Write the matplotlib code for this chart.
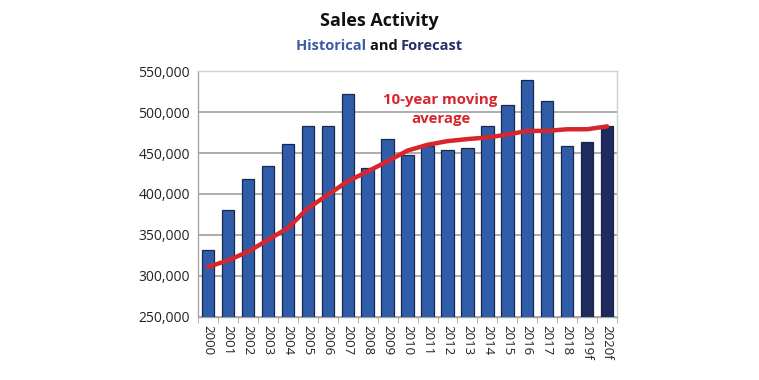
import matplotlib.pyplot as plt
import numpy as np

# Daten
years = ["2000", "2001", "2002", "2003", "2004", "2005", "2006", "2007", "2008",
         "2009", "2010", "2011", "2012", "2013", "2014", "2015", "2016", "2017",
         "2018", "2019f", "2020f"]
sales = [332000, 380000, 418500, 434500, 461000, 483500, 483500, 521500, 432000,
         466500, 447500, 459000, 454000, 456500, 482500, 508000, 539500, 514000,
         458000, 463500, 483500]
moving_avg = [311000, 319000, 329500, 344000, 358500, 382500, 399000, 415500,
              427500, 440000, 453000, 460000, 464500, 467000, 469000, 472500,
              477000, 477000, 479000, 479000, 482500]
forecast = [False] * 19 + [True, True]

plt.rcParams['font.family'] = ['Open Sans', 'DejaVu Sans']

fig = plt.figure(figsize=(7.59, 3.80), dpi=100)
ax = fig.add_axes([0.261, 0.166, 0.552, 0.647])

x = np.arange(len(years))
colors = ['#1f2a5e' if f else '#2f5daa' for f in forecast]
ax.bar(x, sales, width=0.62, color=colors, edgecolor='#1a2748', linewidth=0.9, zorder=3)
ax.plot(x, moving_avg, color='#d7262e', linewidth=3.2, zorder=4, solid_capstyle='round')

ax.set_ylim(250000, 550000)
ax.set_xlim(-0.5, len(years) - 0.5)
ax.set_yticks(np.arange(250000, 550001, 50000))
ax.yaxis.set_major_formatter(plt.FuncFormatter(lambda v, p: f"{int(v):,}"))
ax.grid(axis='y', color='#a6a6a6', linewidth=1.3, zorder=0)
ax.set_axisbelow(True)

ax.set_xticks(x)
ax.set_xticklabels(years, rotation=270, fontsize=9.5, color='#222222')
ax.set_xticks(np.arange(-0.5, len(years), 1), minor=True)
ax.tick_params(axis='x', which='major', length=0, pad=6)
ax.tick_params(axis='x', which='minor', length=4, color='#a6a6a6', direction='out')
ax.tick_params(axis='y', length=0, labelsize=10, colors='#222222', pad=6)

for s in ['left', 'bottom', 'top', 'right']:
    ax.spines[s].set_color('#a6a6a6')
    ax.spines[s].set_linewidth(1.0)
ax.spines['top'].set_color('#d0d0d0')
ax.spines['right'].set_color('#d0d0d0')

ax.text(11.65, 503000, "10-year moving\naverage", color='#d7262e', fontsize=10.8,
        fontweight='bold', ha='center', va='center', linespacing=1.5, zorder=5)

# Titel
fig.text(0.5, 0.945, "Sales Activity", ha='center', va='center', fontsize=13,
         fontweight='bold', color='#111111')
t1 = fig.text(0.5, 0.88, "Historical ", ha='right', va='center', fontsize=10.5,
              fontweight='bold', color='#3a5ba8')
fig.text(0.5, 0.88, "and ", ha='left', va='center', fontsize=10.5,
         fontweight='bold', color='#111111')
fig.canvas.draw()
r = fig.canvas.get_renderer()
and_txt = fig.texts[-1]
bb = and_txt.get_window_extent(r)
fig.text(bb.x1 / fig.bbox.width, 0.88, "Forecast", ha='left', va='center',
         fontsize=10.5, fontweight='bold', color='#252f6a')
# "Historical" nach links verschieben, damit die Zeile zentriert ist
w_hist = t1.get_window_extent(r).width
w_rest = bb.width + fig.texts[-1].get_window_extent(r).width
shift = (w_hist - w_rest) / 2 / fig.bbox.width
for t in fig.texts[1:]:
    xx, yy = t.get_position()
    t.set_position((xx + shift, yy))

fig.savefig("out.png", dpi=100)
